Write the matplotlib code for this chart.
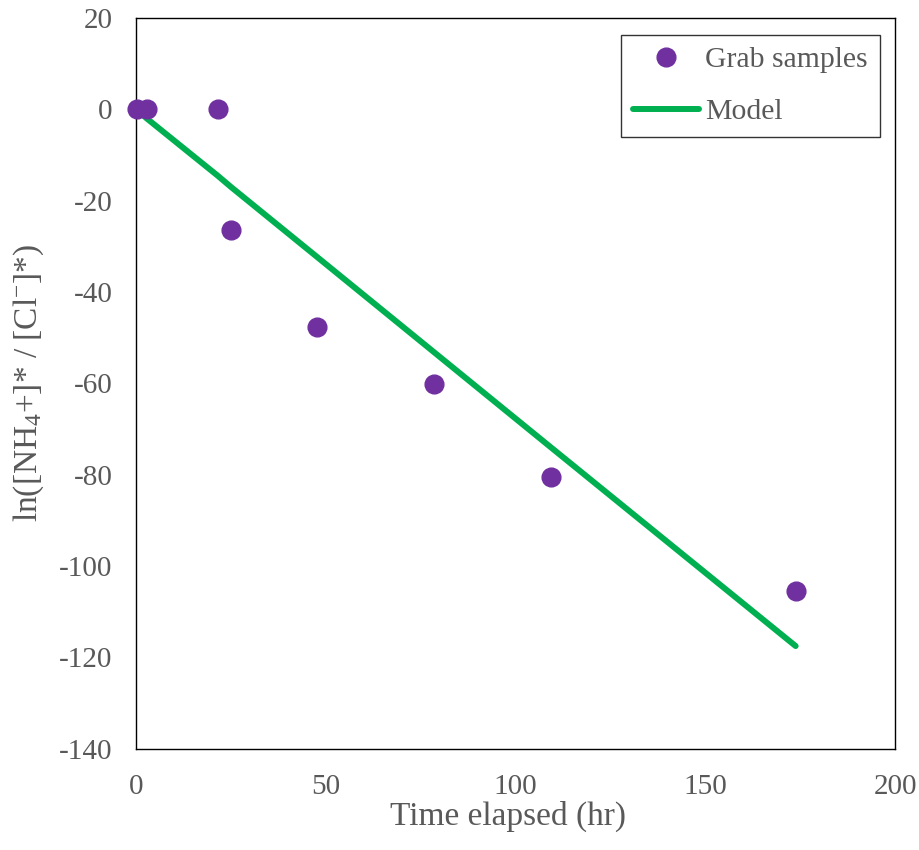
import matplotlib
matplotlib.use("Agg")
import matplotlib.pyplot as plt

# フォント（Times 風）
plt.rcParams["font.family"] = ["Liberation Serif", "DejaVu Serif"]
plt.rcParams["mathtext.fontset"] = "custom"
plt.rcParams["mathtext.rm"] = "Liberation Serif"
plt.rcParams["mathtext.it"] = "Liberation Serif:italic"
plt.rcParams["axes.unicode_minus"] = False

# グラブサンプル
sample_time = [0.2, 2.8, 21.6, 25.0, 47.8, 78.4, 109.3, 173.8]
sample_ln = [0.0, 0.0, 0.0, -26.4, -47.6, -60.2, -80.4, -105.5]

# モデル
model_time = [0.0, 2.8, 21.6, 25.0, 47.8, 78.4, 109.3, 173.8]
model_ln = [0.0, -2.0, -14.6, -17.0, -32.4, -53.1, -74.0, -117.5]

x_ticks = [0, 50, 100, 150, 200]
y_ticks = [20, 0, -20, -40, -60, -80, -100, -120, -140]

tick_color = "#595959"

fig = plt.figure(figsize=(9.19, 8.5), dpi=100)
ax = fig.add_axes([0.148, 0.119, 0.826, 0.860])

ax.plot(model_time, model_ln, color="#00B050", linewidth=4.3,
        solid_capstyle="round", label="Model", zorder=2)
ax.plot(sample_time, sample_ln, linestyle="none", marker="o",
        markersize=13.5, color="#7030A0", label="Grab samples",
        zorder=3, clip_on=False)

ax.set_xlim(0, 200)
ax.set_ylim(-140, 20)
ax.set_xticks(x_ticks)
ax.set_yticks(y_ticks)
ax.tick_params(axis="both", length=0, labelsize=21, labelcolor=tick_color)
ax.tick_params(axis="x", pad=18)
ax.tick_params(axis="y", pad=17)

for sp in ax.spines.values():
    sp.set_color("black")
    sp.set_linewidth(1.0)

ax.set_xlabel("Time elapsed (hr)", fontsize=24, color=tick_color)
ax.xaxis.set_label_coords(0.490, -0.071)
ax.set_ylabel(r"ln([NH$_4$+]* / [Cl$^{-}$]*)", fontsize=24, color=tick_color)
ax.yaxis.set_label_coords(-0.118, 0.5)

# 凡例（Grab samples を上に）
handles, labels = ax.get_legend_handles_labels()
leg = ax.legend(handles[::-1], labels[::-1], loc="upper right",
                bbox_to_anchor=(0.980, 0.977), fontsize=21.4,
                frameon=True, fancybox=False, handlelength=2.25,
                handletextpad=0.2, borderpad=0.4, labelspacing=0.85,
                borderaxespad=0.0)
leg.get_frame().set_edgecolor("black")
leg.get_frame().set_linewidth(1.0)
for t in leg.get_texts():
    t.set_color(tick_color)

fig.savefig("out.png", dpi=100)
